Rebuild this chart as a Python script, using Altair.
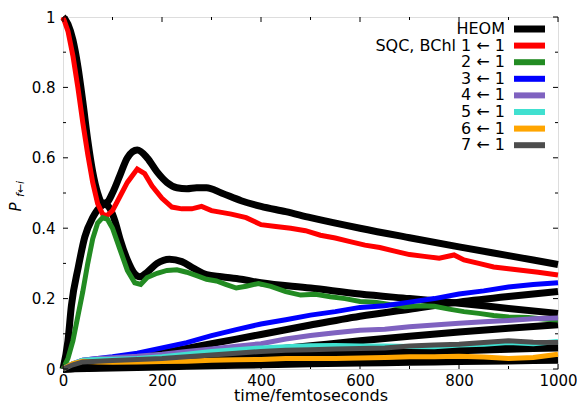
import altair as alt
import pandas as pd

# ---------------- data ----------------
heom1_t = [0,10,20,30,40,50,60,70,80,90,100,115,130,150,170,190,210,230,250,270,290,320,360,400,450,500,600,700,800,900,1000]
heom1_v = [1.0,0.98,0.935,0.86,0.76,0.65,0.56,0.5,0.47,0.475,0.5,0.55,0.6,0.622,0.6,0.56,0.53,0.515,0.512,0.515,0.515,0.5,0.478,0.462,0.447,0.43,0.40,0.373,0.347,0.322,0.297]
heom2_t = [0,10,17,31,44,60,75,85,95,105,115,130,145,155,170,190,215,240,265,290,320,360,400,500,600,700,800,900,1000]
heom2_v = [0,0.08,0.18,0.29,0.375,0.43,0.46,0.468,0.455,0.42,0.37,0.31,0.27,0.262,0.275,0.3,0.312,0.305,0.285,0.268,0.262,0.255,0.245,0.23,0.213,0.2,0.187,0.172,0.158]
heom_lin_t = [0,100,200,300,400,500,600,700,800,900,1000]
heom3_v = [0,0.018,0.045,0.072,0.098,0.125,0.15,0.17,0.19,0.206,0.22]
heom4_v = [0,0.008,0.022,0.038,0.052,0.066,0.08,0.093,0.105,0.116,0.126]
heom5_v = [0,0.008,0.018,0.028,0.036,0.043,0.049,0.054,0.058,0.062,0.066]
heom6_v = [0,0.003,0.006,0.009,0.012,0.015,0.017,0.019,0.021,0.023,0.025]
heom7_v = [0,0.006,0.014,0.022,0.029,0.036,0.042,0.047,0.052,0.056,0.06]

sqc1_t = [0,10,20,30,40,50,60,70,80,88,100,115,130,150,165,180,200,220,240,260,280,300,320,340,370,400,430,460,490,520,550,580,610,640,670,700,730,760,790,810,840,870,900,930,960,1000]
sqc1_v = [1.0,0.96,0.89,0.8,0.7,0.61,0.53,0.47,0.44,0.435,0.45,0.49,0.53,0.568,0.555,0.52,0.485,0.46,0.455,0.455,0.462,0.45,0.445,0.44,0.43,0.41,0.405,0.4,0.393,0.38,0.372,0.362,0.352,0.345,0.335,0.325,0.32,0.315,0.324,0.31,0.3,0.29,0.285,0.28,0.275,0.267]
sqc2_t = [0,10,20,30,40,50,60,70,80,90,100,115,130,145,157,170,190,210,230,250,270,290,310,330,350,370,395,420,450,480,510,540,570,600,630,660,690,720,750,780,810,840,870,900,940,970,1000]
sqc2_v = [0,0.03,0.08,0.15,0.22,0.3,0.37,0.415,0.43,0.425,0.4,0.34,0.28,0.245,0.24,0.26,0.272,0.28,0.282,0.275,0.265,0.255,0.25,0.24,0.23,0.235,0.243,0.235,0.22,0.21,0.212,0.205,0.2,0.192,0.19,0.183,0.177,0.18,0.178,0.17,0.163,0.158,0.152,0.148,0.146,0.142,0.139]
sqc_t = [0,20,40,70,100,150,200,250,300,350,400,450,500,550,600,650,700,750,800,850,900,950,1000]
sqc3_v = [0,0.015,0.025,0.03,0.035,0.045,0.06,0.075,0.095,0.112,0.128,0.14,0.153,0.163,0.175,0.18,0.19,0.2,0.213,0.222,0.233,0.24,0.245]
sqc4_v = [0,0.015,0.025,0.03,0.032,0.036,0.042,0.05,0.057,0.065,0.072,0.085,0.095,0.103,0.11,0.113,0.12,0.125,0.13,0.134,0.138,0.143,0.145]
sqc5_v = [0,0.015,0.025,0.027,0.028,0.03,0.035,0.042,0.05,0.055,0.06,0.063,0.066,0.067,0.065,0.065,0.064,0.063,0.068,0.07,0.075,0.072,0.078]
sqc6_v = [0,0.015,0.022,0.02,0.019,0.02,0.021,0.022,0.025,0.026,0.027,0.03,0.03,0.03,0.031,0.033,0.035,0.035,0.036,0.034,0.03,0.033,0.042]
sqc7_v = [0,0.012,0.02,0.022,0.024,0.027,0.03,0.035,0.04,0.045,0.05,0.053,0.055,0.057,0.058,0.06,0.065,0.068,0.07,0.075,0.08,0.076,0.075]

sqc_names = ["1", "2", "3", "4", "5", "6", "7"]
sqc_colors = ["#ff0000", "#228b22", "#0000ff", "#7f62c0", "#40e0d0", "#ffa500", "#4d4d4d"]
legend_labels = ["HEOM", "SQC, BChl 1 \u2190 1", "2 \u2190 1", "3 \u2190 1", "4 \u2190 1",
                 "5 \u2190 1", "6 \u2190 1", "7 \u2190 1"]
legend_colors = ["#000000"] + sqc_colors

x_major = [0, 200, 400, 600, 800, 1000]
x_minor = [100, 300, 500, 700, 900]
y_major = [0, 0.2, 0.4, 0.6, 0.8, 1.0]
y_minor = [0.1, 0.3, 0.5, 0.7, 0.9]

# ---------------- build tables ----------------
heom_sets = [(heom1_t, heom1_v), (heom2_t, heom2_v), (heom_lin_t, heom3_v), (heom_lin_t, heom4_v),
             (heom_lin_t, heom5_v), (heom_lin_t, heom6_v), (heom_lin_t, heom7_v)]
rows = []
for k, (tt, vv) in enumerate(heom_sets):
    for t, v in zip(tt, vv):
        rows.append({"t": t, "p": v, "s": "H" + sqc_names[k]})
heom_df = pd.DataFrame(rows)

sqc_sets = [(sqc1_t, sqc1_v), (sqc2_t, sqc2_v), (sqc_t, sqc3_v), (sqc_t, sqc4_v),
            (sqc_t, sqc5_v), (sqc_t, sqc6_v), (sqc_t, sqc7_v)]
rows = []
for k, (tt, vv) in enumerate(sqc_sets):
    for t, v in zip(tt, vv):
        rows.append({"t": t, "p": v, "s": sqc_names[k]})
sqc_df = pd.DataFrame(rows)

W, H = 495, 352
FONT = "DejaVu Sans"

xscale = alt.Scale(domain=[0, 1000], nice=False, zero=False)
yscale = alt.Scale(domain=[0, 1], nice=False, zero=False)

heom = alt.Chart(heom_df).mark_line(color="black", strokeWidth=7, interpolate="monotone").encode(
    x=alt.X("t:Q", scale=xscale,
            axis=alt.Axis(title="time/femtoseconds", values=x_major, ticks=False, domain=False,
                          grid=False, labelFontSize=15, labelFont=FONT, labelColor="black",
                          labelPadding=4, titleFont=FONT, titleFontSize=16, titleFontWeight="normal",
                          titleColor="black", titlePadding=-1, labelFlush=False, format="d")),
    y=alt.Y("p:Q", scale=yscale,
            axis=alt.Axis(title=None, values=y_major, ticks=False, domain=False, grid=False,
                          labelFontSize=15, labelFont=FONT, labelColor="black", labelPadding=8,
                          labelFlush=False, labelExpr="format(datum.value, '~g')")),
    detail="s:N",
)

sqc = alt.Chart(sqc_df).mark_line(strokeWidth=5).encode(
    x="t:Q", y="p:Q",
    color=alt.Color("s:N", scale=alt.Scale(domain=sqc_names, range=sqc_colors), legend=None),
)

layers = [heom, sqc]

# inward ticks on all four sides
def xt(vals, ln):
    d = pd.DataFrame({"t": vals})
    b = alt.Chart(d).mark_rule(color="black", strokeWidth=1).encode(
        x="t:Q", y=alt.value(H - ln), y2=alt.value(H))
    tp = alt.Chart(d).mark_rule(color="black", strokeWidth=1).encode(
        x="t:Q", y=alt.value(0), y2=alt.value(ln))
    return [b, tp]

def yt(vals, ln):
    d = pd.DataFrame({"p": vals})
    l = alt.Chart(d).mark_rule(color="black", strokeWidth=1).encode(
        y="p:Q", x=alt.value(0), x2=alt.value(ln))
    r = alt.Chart(d).mark_rule(color="black", strokeWidth=1).encode(
        y="p:Q", x=alt.value(W - ln), x2=alt.value(W))
    return [l, r]

layers += xt(x_major, 5) + xt(x_minor, 3) + yt(y_major, 5) + yt(y_minor, 3)

# legend (custom, labels right-aligned with samples on the right)
one = alt.Data(values=[{"a": 1}])
for i, (lab, col) in enumerate(zip(legend_labels, legend_colors)):
    yy = 12 + i * 16.6
    layers.append(alt.Chart(one).mark_text(align="right", baseline="middle", fontSize=16, font=FONT,
                                           color="black").encode(
        x=alt.value(442), y=alt.value(yy), text=alt.value(lab)))
    layers.append(alt.Chart(one).mark_rule(color=col, strokeWidth=7 if i == 0 else 6).encode(
        x=alt.value(451), x2=alt.value(482), y=alt.value(yy)))

# y-axis title P_{f<-i}
layers.append(alt.Chart(one).mark_text(angle=270, align="center", baseline="middle", fontSize=15,
                                       font=FONT, fontStyle="italic", color="black").encode(
    x=alt.value(-47), y=alt.value(190), text=alt.value("P")))
layers.append(alt.Chart(one).mark_text(angle=270, align="center", baseline="middle", fontSize=11,
                                       font=FONT, fontStyle="italic", color="black").encode(
    x=alt.value(-42), y=alt.value(172), text=alt.value("f\u2190i")))

chart = alt.layer(*layers).properties(
    width=W, height=H,
    autosize=alt.AutoSizeParams(type="none"),
    padding={"left": 63, "top": 17, "right": 19, "bottom": 34},
).configure_view(stroke="black", strokeWidth=1.5).configure(background="white")

chart.save("out.html", embed_options={"renderer": "svg", "actions": False})
